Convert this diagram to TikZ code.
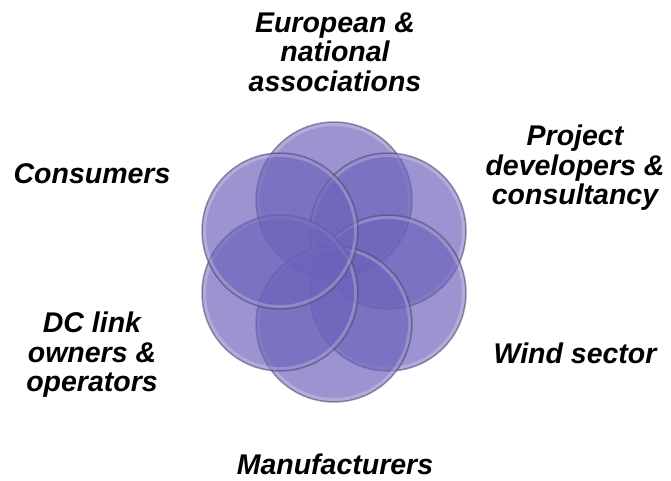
\documentclass[tikz,border=0pt]{standalone}
\usepackage{fontspec}
\setmainfont{Liberation Sans}
\begin{document}
\begin{tikzpicture}[x=1pt,y=-1pt,
  petal/.style={fill=petalfill,fill opacity=0.68,draw=petalrim,draw opacity=0.55,line width=1.5pt},
  gloss/.style={draw=white,draw opacity=0.22,line width=3pt},
  label/.style={align=center,font=\fontsize{28.5}{29.5}\selectfont\bfseries\itshape,inner sep=0pt}]
\definecolor{petalfill}{RGB}{108,98,186}
\definecolor{petalrim}{RGB}{84,78,112}
\useasboundingbox (0,0) rectangle (671,481);
% six overlapping circles on a ring around the centre (334,262)
\coordinate (top) at (334,200);
\coordinate (ur) at (388,231);
\coordinate (lr) at (388,293);
\coordinate (bot) at (334,324);
\coordinate (ll) at (280,293);
\coordinate (ul) at (280,231);
\foreach \n in {top,ur,lr,bot,ll,ul}{
  \draw[petal] (\n) circle[radius=78];
  \draw[gloss] (\n) circle[radius=75.5];
}
% stakeholder labels
\node[label,anchor=north] (eur) at (335,12.5) {European \&\\national\\associations};
\node[label,anchor=base] (cons) at (92,183) {Consumers};
\node[label,anchor=north] (proj) at (575,125) {Project\\developers \&\\consultancy};
\node[label,anchor=base] (wind) at (575,363) {Wind sector};
\node[label,anchor=north] (dc) at (92,312) {DC link\\owners \&\\operators};
\node[label,anchor=base] (man) at (335,474) {Manufacturers};
\end{tikzpicture}
\end{document}
